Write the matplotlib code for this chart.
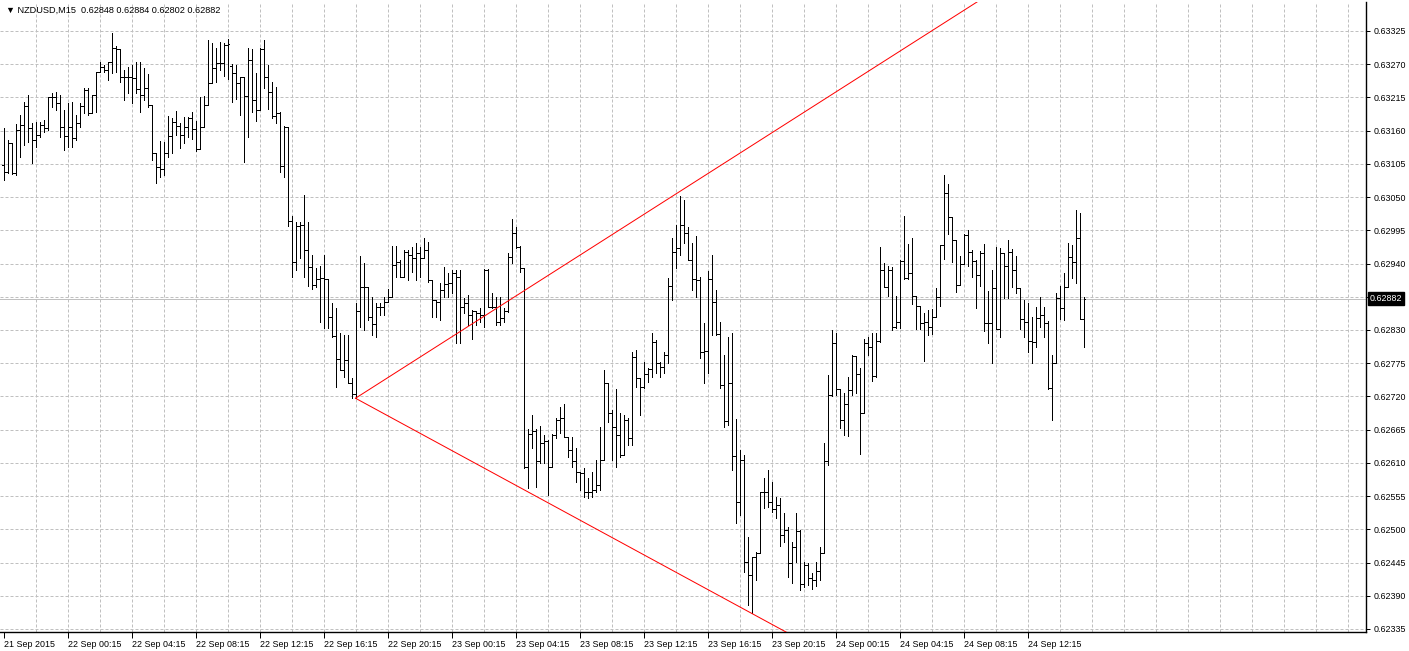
import numpy as np
import matplotlib
matplotlib.use("Agg")
import matplotlib.pyplot as plt
from matplotlib.collections import LineCollection
from matplotlib.transforms import blended_transform_factory

plt.rcParams['font.family'] = ['Liberation Sans', 'DejaVu Sans']

symbol = "NZDUSD,M15"

# OHLC values in points (1 point = 0.00001)
open_pts = [
63103,63092,63140,63090,63161,63169,63201,63164,63145,63153,
63169,63164,63216,63216,63206,63166,63151,63166,63148,63173,
63201,63227,63189,63219,63257,63265,63260,63274,63297,63295,
63249,63249,63249,63247,63229,63219,63231,63202,63123,63100,
63097,63123,63151,63174,63168,63153,63166,63181,63163,63130,
63166,63202,63239,63264,63272,63272,63302,63267,63255,63239,
63249,63217,63277,63211,63194,63295,63249,63224,63184,63189,
63102,63166,63010,62943,63002,63004,62962,62934,62904,62914,
62916,62914,62851,62820,62782,62764,62780,62742,62724,62861,
62901,62901,62851,62840,62868,62868,62876,62885,62938,62943,
62918,62959,62954,62949,62957,62949,62962,62913,62880,62876,
62896,62906,62908,62924,62918,62868,62875,62855,62861,62858,
62855,62929,62868,62868,62843,62850,62861,62951,62991,62967,
62933,62603,62658,62663,62613,62643,62646,62603,62656,62681,
62684,62653,62631,62613,62595,62593,62562,62562,62565,62573,
62615,62742,62693,62669,62656,62623,62681,62651,62785,62750,
62736,62757,62765,62810,62775,62769,62789,62903,62959,62966,
63004,62991,62946,62914,62913,62794,62795,62914,62876,62823,
62739,62679,62742,62621,62545,62615,62446,62424,62454,62461,
62562,62562,62545,62534,62540,62491,62499,62444,62470,62497,
62409,62441,62419,62416,62431,62461,62613,62722,62808,62732,
62681,62708,62731,62787,62757,62693,62808,62802,62754,62812,
62929,62901,62929,62835,62843,62944,62916,62924,62886,62870,
62842,62843,62835,62851,62885,62971,63057,63017,62979,62904,
62939,62987,62959,62944,62921,62957,62842,62842,62899,62832,
62957,62936,62959,62929,62899,62848,62843,62812,62810,62850,
62855,62842,62734,62775,62883,62866,62901,62951,62943,62982,
62848]

high_pts = [
63164,63145,63140,63171,63186,63207,63219,63173,63174,63174,
63178,63216,63222,63224,63219,63194,63206,63207,63186,63206,
63231,63231,63219,63257,63274,63269,63274,63322,63300,63295,
63260,63265,63269,63274,63274,63264,63254,63202,63123,63143,
63141,63184,63181,63193,63173,63183,63183,63191,63176,63216,
63217,63310,63305,63297,63307,63305,63312,63270,63269,63249,
63249,63297,63295,63255,63297,63310,63269,63241,63232,63191,
63168,63166,63019,63009,63009,63054,63009,62954,62933,62936,
62954,62914,62875,62866,62825,62822,62822,62750,62875,62952,
62941,62901,62885,62875,62875,62885,62898,62969,62969,62946,
62962,62962,62967,62974,62967,62982,62976,62913,62880,62908,
62934,62924,62929,62929,62929,62883,62888,62863,62861,62866,
62931,62931,62891,62885,62885,62866,62957,63014,63001,62969,
62933,62666,62689,62666,62671,62656,62648,62658,62684,62703,
62708,62653,62653,62635,62595,62602,62585,62595,62615,62669,
62764,62742,62698,62732,62693,62689,62684,62794,62797,62750,
62777,62767,62825,62813,62777,62794,62916,62982,63004,63052,
63045,63001,62974,62986,62918,62842,62928,62954,62896,62843,
62789,62818,62825,62683,62631,62623,62487,62454,62462,62562,
62585,62598,62578,62554,62552,62527,62504,62479,62527,62499,
62446,62444,62427,62446,62470,62643,62755,62830,62825,62732,
62726,62752,62789,62787,62767,62815,62818,62825,62825,62967,
62941,62936,62934,62886,62946,63019,62972,62982,62886,62870,
62858,62863,62865,62899,62971,63087,63072,63017,62979,62952,
62989,62996,62962,62946,62961,62972,62895,62929,62967,62966,
62957,62979,62964,62952,62899,62880,62875,62851,62868,62885,
62868,62845,62789,62891,62903,62924,62974,62971,63029,63024,
62884]

low_pts = [
63078,63090,63088,63087,63116,63136,63141,63107,63133,63150,
63158,63161,63199,63194,63150,63128,63133,63133,63145,63166,
63189,63186,63189,63191,63257,63257,63244,63255,63257,63241,
63211,63222,63206,63222,63191,63211,63199,63111,63073,63083,
63087,63116,63123,63153,63131,63140,63150,63146,63126,63130,
63166,63202,63239,63241,63260,63250,63245,63207,63212,63186,
63108,63150,63191,63176,63194,63231,63196,63181,63173,63092,
63083,63002,62918,62929,62949,62918,62903,62898,62901,62843,
62833,62833,62818,62736,62764,62752,62742,62717,62717,62835,
62830,62847,62822,62818,62855,62855,62876,62885,62918,62918,
62918,62913,62926,62913,62918,62949,62909,62851,62851,62847,
62885,62885,62891,62808,62808,62858,62838,62815,62838,62843,
62835,62868,62866,62838,62838,62843,62860,62941,62966,62926,
62602,62568,62635,62570,62610,62610,62557,62603,62651,62660,
62653,62620,62603,62578,62565,62554,62552,62554,62562,62565,
62615,62678,62615,62603,62620,62623,62640,62640,62736,62689,
62734,62744,62752,62759,62752,62759,62775,62880,62933,62954,
62974,62946,62896,62885,62784,62742,62759,62822,62822,62734,
62669,62673,62598,62510,62524,62429,62375,62361,62416,62461,
62535,62537,62529,62519,62472,62479,62421,62411,62446,62399,
62404,62408,62401,62406,62416,62461,62607,62721,62722,62668,
62656,62655,62722,62726,62625,62693,62789,62746,62752,62810,
62901,62886,62830,62833,62833,62914,62914,62873,62832,62832,
62779,62822,62823,62851,62870,62948,62989,62943,62893,62904,
62939,62936,62918,62866,62903,62828,62808,62775,62832,62818,
62883,62883,62901,62891,62832,62818,62794,62775,62802,62835,
62818,62732,62681,62775,62848,62847,62901,62916,62908,62848,
62802]

close_pts = [
63092,63140,63090,63161,63169,63201,63164,63145,63153,63169,
63164,63216,63216,63206,63166,63151,63166,63148,63173,63201,
63227,63189,63219,63257,63265,63260,63274,63297,63295,63249,
63249,63249,63247,63229,63219,63231,63202,63123,63100,63097,
63123,63151,63174,63168,63153,63166,63181,63163,63130,63166,
63202,63239,63264,63272,63272,63302,63303,63255,63239,63249,
63217,63277,63211,63194,63295,63249,63224,63184,63189,63102,
63166,63010,62943,63002,63004,62962,62934,62904,62914,62916,
62914,62851,62820,62782,62764,62780,62742,62724,62861,62901,
62901,62851,62840,62868,62868,62876,62885,62938,62943,62918,
62959,62954,62949,62957,62949,62962,62913,62880,62876,62896,
62906,62908,62924,62918,62868,62875,62855,62861,62858,62855,
62929,62868,62868,62843,62850,62861,62951,62991,62967,62933,
62603,62658,62663,62613,62643,62646,62603,62656,62681,62684,
62653,62631,62613,62595,62593,62562,62562,62565,62573,62615,
62742,62693,62669,62656,62623,62681,62651,62785,62750,62736,
62757,62765,62810,62775,62769,62789,62903,62959,62966,63004,
62991,62946,62914,62913,62794,62795,62914,62876,62823,62739,
62679,62742,62621,62545,62615,62446,62424,62454,62461,62562,
62562,62545,62534,62540,62491,62499,62444,62470,62497,62409,
62441,62419,62416,62431,62461,62613,62722,62808,62732,62681,
62708,62731,62787,62757,62693,62808,62802,62754,62812,62929,
62901,62929,62835,62843,62944,62916,62924,62886,62870,62842,
62843,62835,62851,62885,62971,63057,63017,62979,62904,62939,
62987,62959,62944,62921,62957,62842,62842,62899,62832,62957,
62936,62959,62929,62899,62848,62843,62812,62810,62850,62855,
62842,62734,62775,62883,62866,62901,62951,62943,62982,62848,
62882]

time_tick_bars = [0, 16, 32, 48, 64, 80, 96, 112, 128, 144, 160, 176, 192, 208, 224, 240, 256]
time_tick_labels = ["21 Sep 2015", "22 Sep 00:15", "22 Sep 04:15", "22 Sep 08:15",
                    "22 Sep 12:15", "22 Sep 16:15", "22 Sep 20:15", "23 Sep 00:15",
                    "23 Sep 04:15", "23 Sep 08:15", "23 Sep 12:15", "23 Sep 16:15",
                    "23 Sep 20:15", "24 Sep 00:15", "24 Sep 04:15", "24 Sep 08:15",
                    "24 Sep 12:15"]
price_ticks = [0.62335, 0.62390, 0.62445, 0.62500, 0.62555, 0.62610, 0.62665,
               0.62720, 0.62775, 0.62830, 0.62885, 0.62940, 0.62995, 0.63050,
               0.63105, 0.63160, 0.63215, 0.63270, 0.63325]

# trend lines (anchor bar index, price)
trend_up = [(88, 0.62717), (169, 0.63059)]
trend_down = [(88, 0.62717), (187, 0.62361)]

o = np.array(open_pts) / 1e5
h = np.array(high_pts) / 1e5
l = np.array(low_pts) / 1e5
c = np.array(close_pts) / 1e5
idx = np.arange(len(c))

W, H = 1409, 651
fig = plt.figure(figsize=(W / 100, H / 100), dpi=100)
ax = fig.add_axes([0 / W, (H - 632) / H, 1366 / W, 630 / H])
ax.set_xlim(-0.875, 340.625)
ax.set_ylim(0.62330, 0.63373)

px = 0.72  # 1 pixel in points
grid_col = '#c0c0c0'

# grid
for gx in range(8, 341, 8):
    ax.axvline(gx, color=grid_col, lw=px, ls=(0, (3, 2)), zorder=0)
for gy in price_ticks:
    ax.axhline(gy, color=grid_col, lw=px, ls=(0, (3, 2)), zorder=0)

# current price line
ax.axhline(c[-1], color='#c0c0c0', lw=px, zorder=1)

# bars
segs = []
for i in idx:
    segs.append([(i, l[i]), (i, h[i])])
    segs.append([(i - 0.45, o[i]), (i, o[i])])
    segs.append([(i, c[i]), (i + 0.45, c[i])])
lc = LineCollection(segs, colors='black', linewidths=px, antialiased=False, zorder=3)
ax.add_collection(lc)

# trend rays
for (x1, y1), (x2, y2) in (trend_up, trend_down):
    slope = (y2 - y1) / (x2 - x1)
    xe = 400
    ax.plot([x1, xe], [y1, y1 + slope * (xe - x1)], color='red', lw=px, zorder=4)

# axes styling
for s in ['top', 'left']:
    ax.spines[s].set_visible(False)
for s in ['bottom', 'right']:
    ax.spines[s].set_color('black')
    ax.spines[s].set_linewidth(1.0)

ax.yaxis.tick_right()
ax.set_yticks(price_ticks)
ylabels = ["%.5f" % p if abs(p - 0.62885) > 1e-7 else "" for p in price_ticks]
ax.set_yticklabels(ylabels)
ax.tick_params(axis='y', direction='out', length=3, width=px, pad=2.5,
               labelsize=6.4, colors='black')

ax.set_xticks(time_tick_bars)
ax.set_xticklabels(time_tick_labels)
for lab in ax.get_xticklabels():
    lab.set_horizontalalignment('left')
ax.tick_params(axis='x', direction='out', length=4, width=px, pad=1.5,
               labelsize=6.4, colors='black')

# last price marker
tr = blended_transform_factory(ax.transAxes, ax.transData)
ax.text(1.003, c[-1], "%.5f" % c[-1], transform=tr, color='white', fontsize=6.4,
        ha='left', va='center', clip_on=False, zorder=10,
        bbox=dict(facecolor='black', edgecolor='black', pad=1.2))

# title
title = "\u25BC %s  %.5f %.5f %.5f %.5f" % (symbol, o[-1], h[-1], l[-1], c[-1])
fig.text(6 / W, 1 - 10 / H, title, fontsize=6.6, ha='left', va='center',
         family=['Liberation Sans', 'DejaVu Sans'])

fig.savefig("out.png", dpi=100, facecolor='white')
